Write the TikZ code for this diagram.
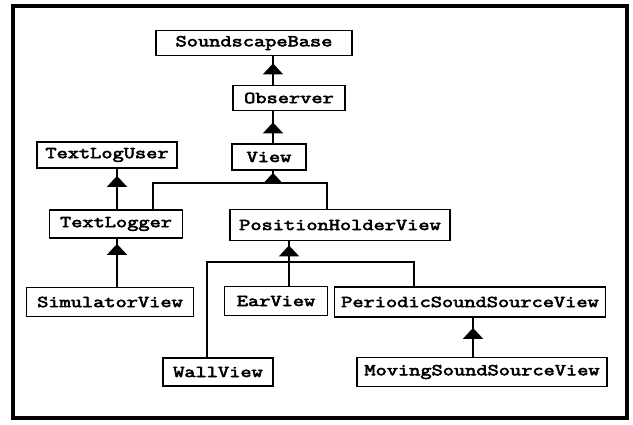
\documentclass[tikz,border=0pt]{standalone}
\usepackage{fontspec}
\newfontfamily\classfont[FakeStretch=1.31,FakeBold=3.5]{Latin Modern Mono}
\usetikzlibrary{arrows.meta}
\usetikzlibrary{decorations.markings}

\tikzset{
  cls/.style={draw, line width=1.8pt, inner sep=2pt, minimum width=#1,
    minimum height=28pt, font=\classfont\fontsize{16.6}{18}\selectfont},
  cls/.default=100pt,
  % inheritance line, filled triangle set back from the parent box
  isa/.style={line width=1.8pt, postaction={decorate},
    decoration={markings, mark=at position -#1pt with
      {\arrow{Triangle[width=20pt,length=11pt]}}}},
  isa/.default=7,
  link/.style={line width=1.8pt}
}

\begin{document}
\begin{tikzpicture}[x=1pt,y=1pt]
  \useasboundingbox (0,0) rectangle (633,-424);
  \draw[line width=3.5pt] (13,-6) rectangle (627,-418);

  \node[cls=196pt, minimum height=25pt] (sb) at (254,-43) {SoundscapeBase};
  \node[cls=112pt, minimum height=25pt] (obs) at (289,-98) {Observer};
  \node[cls=74pt, minimum height=26pt] (view) at (269,-157) {View};
  \node[cls=140pt, minimum height=26pt] (tlu) at (107,-155) {TextLogUser};
  \node[cls=133pt] (tlogger) at (116,-224) {TextLogger};
  \node[cls=220pt, minimum height=31pt] (phv) at (340,-225) {PositionHolderView};
  \node[cls=167pt, minimum height=29pt] (simv) at (110,-302) {SimulatorView};
  \node[cls=103pt, minimum height=29pt] (ear) at (276,-301) {EarView};
  \node[cls=271pt, minimum height=30pt] (pssv) at (470,-302) {PeriodicSoundSourceView};
  \node[cls=110pt] (wall) at (218,-372) {WallView};
  \node[cls=250pt, minimum height=29pt] (mssv) at (482,-372) {MovingSoundSourceView};

  % vertical runs
  \coordinate (spine) at (273,0);
  \coordinate (lspine) at (117,0);
  \coordinate (rspine) at (473,0);

  \draw[isa=7] (obs.north -| spine) -- (sb.south -| spine);
  \draw[isa=11] (view.north -| spine) -- (obs.south -| spine);
  \draw[isa=7] (tlogger.north -| lspine) -- (tlu.south -| lspine);
  \draw[isa=5] (simv.north -| lspine) -- (tlogger.south -| lspine);
  \draw[isa=10] (mssv.north -| rspine) -- (pssv.south -| rspine);

  % subclasses of View
  \coordinate (vj) at (273,-183);
  \coordinate (vl) at (153,-183);
  \coordinate (vr) at (327,-183);
  \draw[link] (tlogger.north -| vl) -- (vl) -- (vr) -- (phv.north -| vr);
  \draw[isa=2] (vj) -- (view.south -| vj);

  % subclasses of PositionHolderView
  \coordinate (pj) at (289,-262);
  \coordinate (pl) at (207,-262);
  \coordinate (pr) at (414,-262);
  \draw[link] (wall.north -| pl) -- (pl) -- (pr) -- (pssv.north -| pr);
  \draw[isa=4] (ear.north -| pj) -- (phv.south -| pj);
\end{tikzpicture}
\end{document}
